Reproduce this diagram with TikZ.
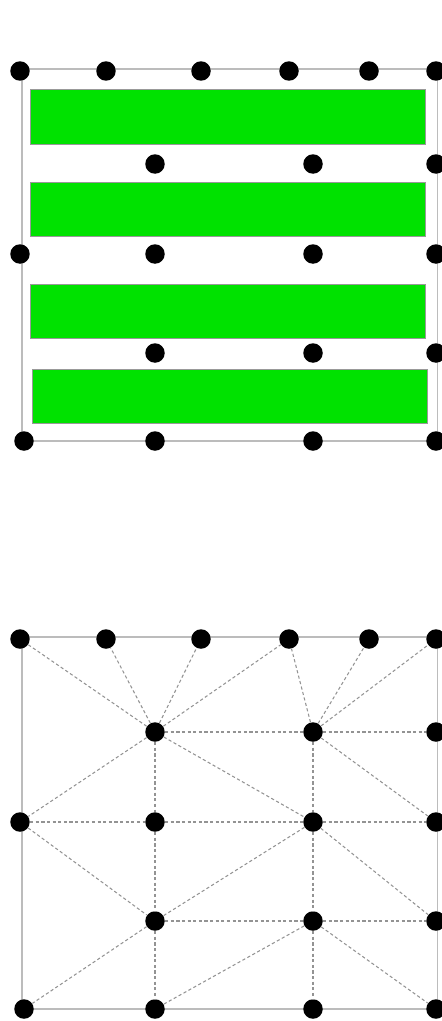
\documentclass[tikz,border=0pt]{standalone}
\usetikzlibrary{calc}
\definecolor{bargreen}{RGB}{0,226,0}
\definecolor{framegray}{RGB}{188,188,188}
\tikzstyle{vx}=[shape=circle, minimum size=3.9mm, inner sep=0, fill=black]
\tikzstyle{frame}=[draw=framegray, line width=0.8pt]
\tikzstyle{bar}=[fill=bargreen, draw=gray!80, line width=0.4pt]
\tikzstyle{mesh}=[draw=gray!85, line width=0.6pt, dash pattern=on 1.8pt off 1.4pt]

\begin{document}
\begin{tikzpicture}[x=0.02cm, y=-0.02cm]
\clip (0,0) rectangle (442,1021);
% the green strips
\draw[bar] (30,89) rectangle (425,144);
\draw[bar] (30,182) rectangle (425,236);
\draw[bar] (30,284) rectangle (425,338);
\draw[bar] (32,369) rectangle (427,423);
% g = upper picture, m = lower picture
\foreach \p/\dy in {g/0, m/568}
{
\draw[frame] (22,69+\dy) rectangle (437.5,441+\dy);
\foreach \x [count=\i from 0] in {20,106,201,289,369,436}
  \node[vx] (\p t\i) at (\x,71+\dy) {};
\foreach \x [count=\i from 0] in {155,313,436}
{
  \node[vx] (\p b\i) at (\x,164+\dy) {};
  \node[vx] (\p d\i) at (\x,353+\dy) {};
}
\foreach \x [count=\i from 0] in {20,155,313,436}
  \node[vx] (\p c\i) at (\x,254+\dy) {};
\foreach \x [count=\i from 0] in {24,155,313,436}
  \node[vx] (\p e\i) at (\x,441+\dy) {};
}
% triangulation
\foreach \a/\b in {b0/t0, b0/t1, b0/t2, b0/t3, b0/c0, b0/c1, b0/b1, b0/c2,
  b1/t3, b1/t4, b1/t5, b1/b2, b1/c2, b1/c3,
  c0/c1, c0/d0, c1/c2, c1/d0, c2/c3, c2/d0, c2/d1, c2/d2,
  d0/d1, d0/e0, d0/e1, d1/e1, d1/e2, d1/d2, d1/e3}
  \draw[mesh] (m\a) -- (m\b);
\end{tikzpicture}
\end{document}
